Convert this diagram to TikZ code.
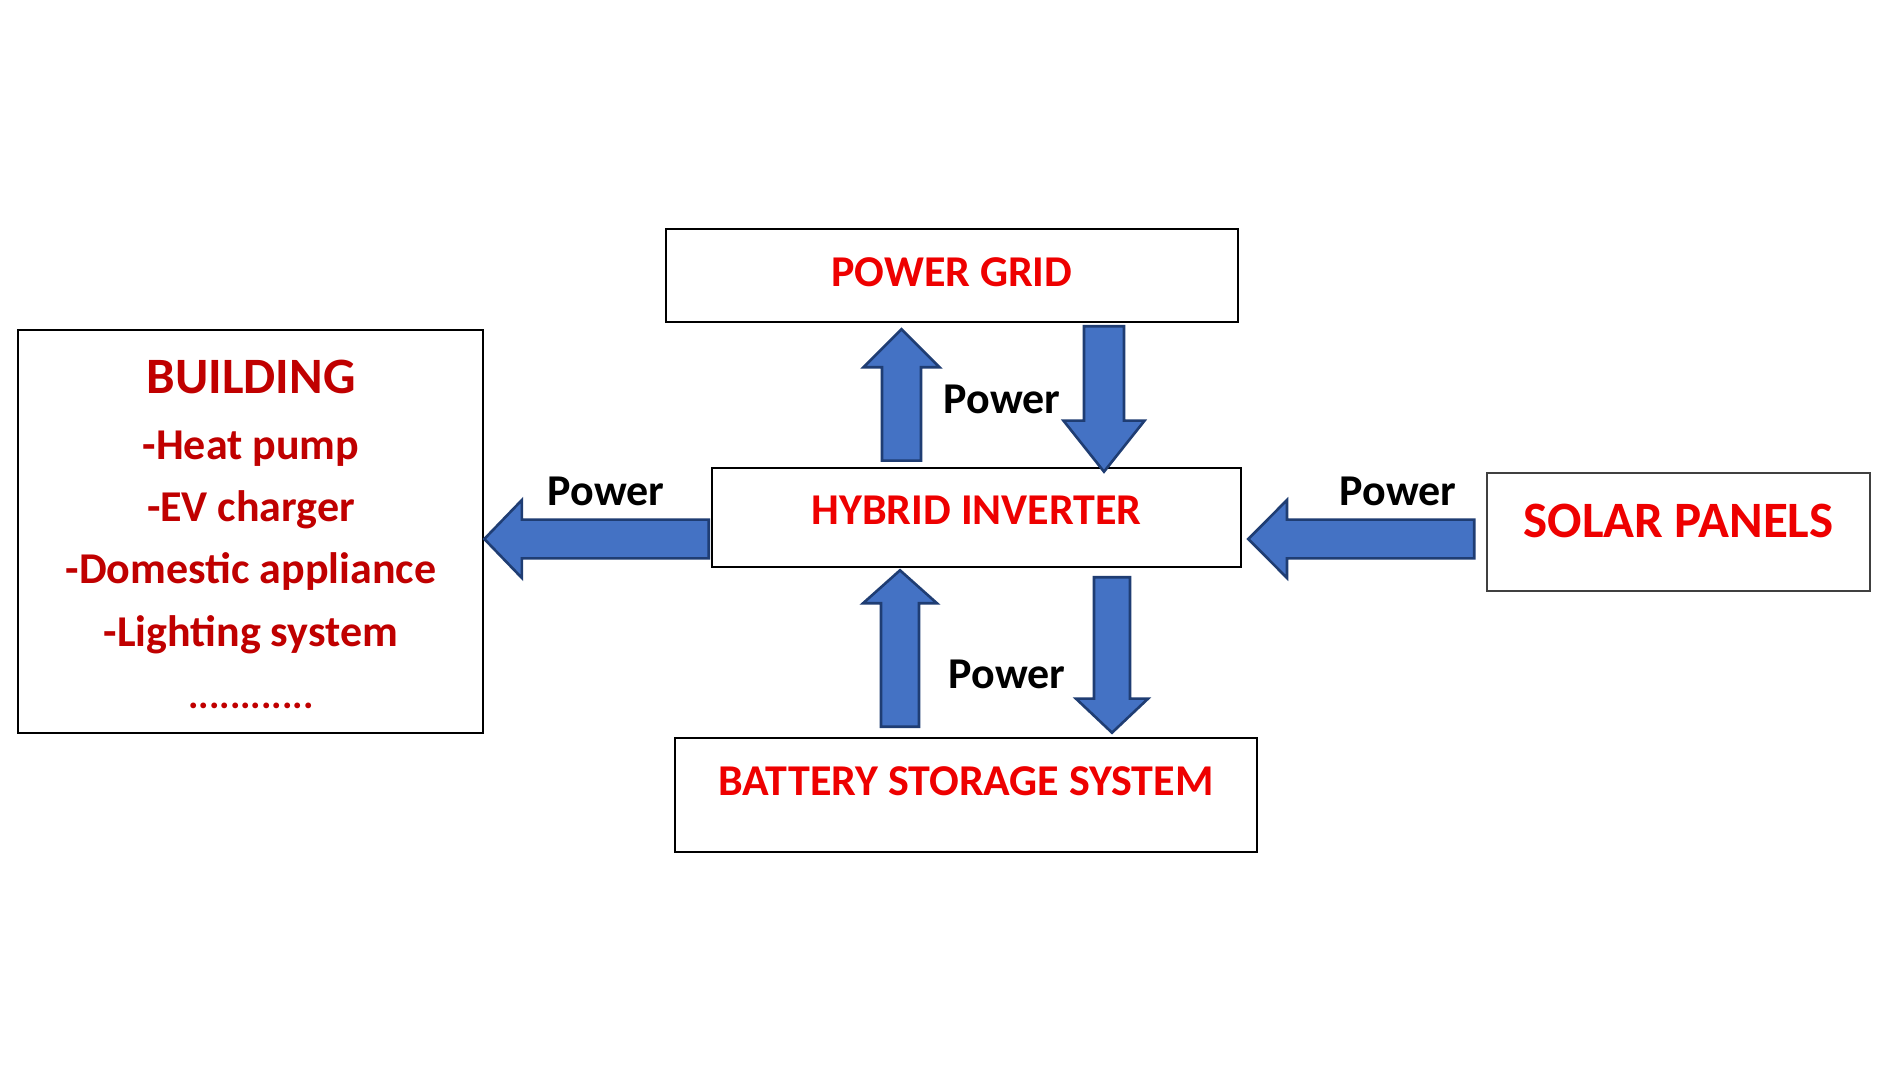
\documentclass[tikz,border=0pt]{standalone}
\usepackage{fontspec}
\setmainfont{Carlito}
\usetikzlibrary{calc}
\definecolor{boxred}{HTML}{EE0000}
\definecolor{bldred}{HTML}{C00000}
\definecolor{arrfill}{HTML}{4472C4}
\definecolor{arrline}{HTML}{1F3D73}
\tikzset{
  box/.style={draw=black, line width=2.6pt, fill=white, inner sep=0pt},
  thinbox/.style={draw=black!75, line width=1.6pt, fill=white, inner sep=0pt},
  lbl/.style={text=boxred, font=\fontsize{44}{52}\selectfont\bfseries, anchor=base, inner sep=0pt},
  biglbl/.style={text=boxred, font=\fontsize{51}{60}\selectfont\bfseries, anchor=base, inner sep=0pt},
  bld/.style={text=bldred, font=\fontsize{44}{52}\selectfont\bfseries, anchor=base, inner sep=0pt},
  bldbig/.style={text=bldred, font=\fontsize{51}{60}\selectfont\bfseries, anchor=base, inner sep=0pt},
  blddots/.style={text=bldred, font=\fontsize{39}{46}\selectfont\bfseries, anchor=base, inner sep=0pt},
  pwr/.style={text=black, font=\fontsize{44}{52}\selectfont\bfseries, anchor=base, inner sep=0pt},
  barrow/.style={fill=arrfill, draw=arrline, line width=2.6pt, line join=miter}
}
% #1 start, #2 tip, #3 shaft half width, #4 head half width, #5 head length
\newcommand{\blockarrow}[5]{%
  \coordinate (ba-b) at ($(#2)!#5!(#1)$);
  \filldraw[barrow] ($(#1)!#3!90:(#2)$) -- ($(ba-b)!#3!90:(#2)$) -- ($(ba-b)!#4!90:(#2)$)
    -- (#2) -- ($(ba-b)!#4!-90:(#2)$) -- ($(ba-b)!#3!-90:(#2)$) -- ($(#1)!#3!-90:(#2)$) -- cycle;
}
\begin{document}
\begin{tikzpicture}[x=1pt,y=1pt]
\fill[white] (0,0) rectangle (1900,1069);
\useasboundingbox (0,0) rectangle (1900,1069);

% boxes
\node[box, minimum width=572pt, minimum height=93pt] (grid) at (952,793.5) {};
\node[box, minimum width=529pt, minimum height=99pt] (inv) at (976.5,551.5) {};
\node[box, minimum width=582pt, minimum height=114pt] (bat) at (966,274) {};
\node[box, minimum width=465pt, minimum height=403pt] (bldg) at (250.5,537.5) {};
\node[thinbox, minimum width=383pt, minimum height=118pt] (solar) at (1678.5,537) {};

% box texts
\node[lbl] (gridt) at ($(grid.center)+(0,-11.5)$) {POWER GRID};
\node[lbl] (invt) at ($(inv.center)+(0,-7.5)$) {HYBRID INVERTER};
\node[lbl] (batt) at ($(bat.center)+(0,-0.5)$) {BATTERY STORAGE SYSTEM};
\node[biglbl] (solart) at ($(solar.center)+(0,-5.4)$) {SOLAR PANELS};

\node[bldbig] (b0) at (251,675.6) {BUILDING};
\node[bld] (b1) at (251,609) {-Heat pump};
\node[bld] (b2) at (251,547.4) {-EV charger};
\node[bld] (b3) at (251,485.6) {-Domestic appliance};
\node[bld] (b4) at (251,422.6) {-Lighting system};
\node[blddots] (b5) at (251,360) {............};

% connector end points
\coordinate (a1s) at ($(inv.north)+(-75,6)$);
\coordinate (a1e) at ($(grid.south)+(-50.5,-6)$);
\coordinate (a2s) at ($(grid.south)+(152,-3)$);
\coordinate (a2e) at ($(inv.north)+(127.5,-5)$);
\coordinate (a3s) at ($(bat.north)+(-66,10)$);
\coordinate (a3e) at ($(inv.south)+(-76.5,-2)$);
\coordinate (a4s) at ($(inv.south)+(135.5,-9)$);
\coordinate (a4e) at ($(bat.north)+(146,4)$);
\coordinate (a5s) at ($(inv.west)+(-2,-21.5)$);
\coordinate (a5e) at ($(bldg.east)+(0,-7.5)$);
\coordinate (a6s) at ($(solar.west)+(-12,-7)$);
\coordinate (a6e) at ($(inv.east)+(6,-21.5)$);

\blockarrow{a1s}{a1e}{19.5pt}{38pt}{38pt}
\blockarrow{a2s}{a2e}{20pt}{40.5pt}{51pt}
\blockarrow{a3s}{a3e}{19pt}{37pt}{33pt}
\blockarrow{a4s}{a4e}{18pt}{36pt}{34pt}
\blockarrow{a5s}{a5e}{19.4pt}{39pt}{37.6pt}
\blockarrow{a6s}{a6e}{19.4pt}{39pt}{38.7pt}

% labels
\node[pwr] (p1) at (1002,655.2) {Power};
\node[pwr] (p2) at (1007,380.1) {Power};
\node[pwr] (p3) at (606,563.1) {Power};
\node[pwr] (p4) at (1398,563.1) {Power};
\end{tikzpicture}
\end{document}
